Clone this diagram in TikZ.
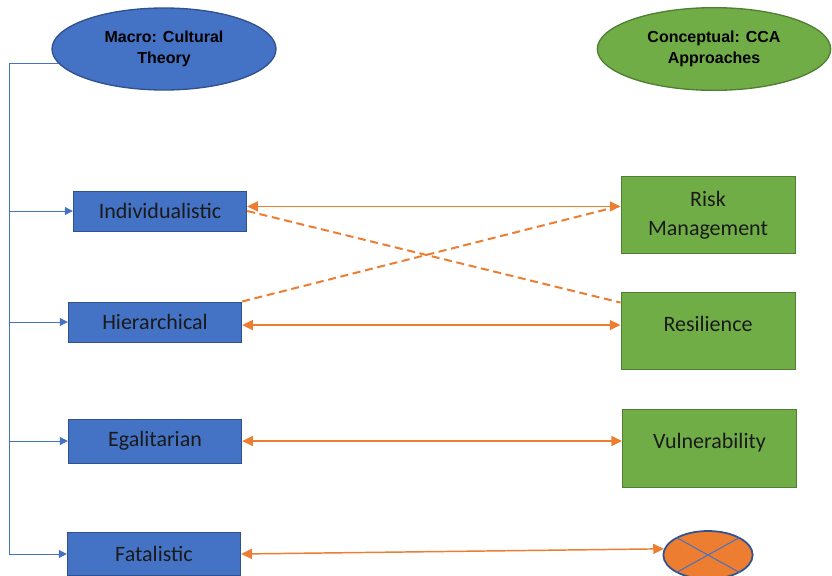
\documentclass[tikz,border=0pt]{standalone}
\usepackage{fontspec}
\setmainfont{Carlito}
\newfontfamily\headfont{Liberation Sans}
\usetikzlibrary{arrows.meta,shapes.geometric}

\definecolor{boxblue}{HTML}{4472C4}
\definecolor{edgeblue}{HTML}{2F528F}
\definecolor{boxgreen}{HTML}{70AD47}
\definecolor{edgegreen}{HTML}{507E32}
\definecolor{linkorange}{HTML}{ED7D31}
\definecolor{inkgrey}{HTML}{1A1A1A}

\tikzset{every picture/.style={line width=0.75pt}}
\tikzset{
	head/.style={ellipse, line width=1pt, inner sep=0pt, align=center, text=black,
		font=\headfont\bfseries\fontsize{12}{16}\selectfont},
	theory/.style={head, draw=edgeblue, fill=boxblue, minimum width=168pt, minimum height=61.5pt},
	concept/.style={head, draw=edgegreen, fill=boxgreen, minimum width=175pt, minimum height=62pt},
	culture/.style={rectangle, draw=edgeblue, fill=boxblue, minimum width=130pt, minimum height=30pt,
		text=inkgrey, font=\fontsize{16.5}{22}\selectfont},
	approach/.style={rectangle, draw=edgegreen, fill=boxgreen, minimum width=130.5pt, minimum height=57.5pt,
		align=center, text=inkgrey, font=\fontsize{16.5}{22}\selectfont},
	trunk/.style={draw=boxblue, line width=0.75pt},
	branch/.style={trunk, -{Triangle[length=6pt,width=6pt]}},
	link/.style={draw=linkorange, line width=1.1pt,
		{Triangle[length=8pt,width=7.5pt]}-{Triangle[length=8pt,width=7.5pt]}},
	cross link/.style={draw=linkorange, line width=1.5pt, dash pattern=on 6pt off 3.5pt}
}

\begin{document}
\begin{tikzpicture}[x=0.75pt,y=0.75pt,yscale=-1,xscale=1]
	\path[use as bounding box] (0,0) rectangle (832,575);

	% Heading ellipses
	\node[theory] (macro) at (164,49) {Macro: Cultural\\Theory};
	\node[concept] (cca) at (714,49) {Conceptual: CCA\\Approaches};

	% Cultural types
	\node[culture] (ind) at (160,211) {Individualistic};
	\node[culture] (hier) at (155,322) {Hierarchical};
	\node[culture, minimum height=33pt] (egal) at (155,441) {Egalitarian};
	\node[culture, minimum height=32pt] (fat) at (154,554) {Fatalistic};

	% CCA approaches
	\node[approach] (risk) at (708,215) {Risk\\Management};
	\node[approach, minimum height=58pt, text depth=10pt] (res) at (708,331) {Resilience};
	\node[approach, minimum height=58.5pt, text depth=10pt] (vul) at (709.5,448) {Vulnerability};

	% Empty approach
	\node[ellipse, draw=edgeblue, fill=linkorange, line width=1.3pt, minimum width=67pt, minimum height=36pt] (none) at (708,555) {};
	\draw[trunk] (none.151) -- (none.-29) (none.29) -- (none.-151);

	% Spine from the heading
	\coordinate (spine) at (macro.188 -| 9,0);
	\draw[trunk] (macro.188) -- (spine) -- (spine |- fat.west);
	\foreach \n in {ind,hier,egal,fat}
		\draw[branch] (spine |- \n.west) -- (\n.west);

	% Links
	\draw[link] (ind.3) -- (ind.3 -| risk.west);
	\draw[link] (hier.-2) -- (hier.-2 -| res.west);
	\draw[link] (egal.east) -- (egal.east -| vul.west);
	\draw[link] (fat.east) -- (none.172);
	\draw[cross link] (ind.east) -- (res.162);
	\draw[cross link] (hier.north east) -- (risk.174);
\end{tikzpicture}
\end{document}
